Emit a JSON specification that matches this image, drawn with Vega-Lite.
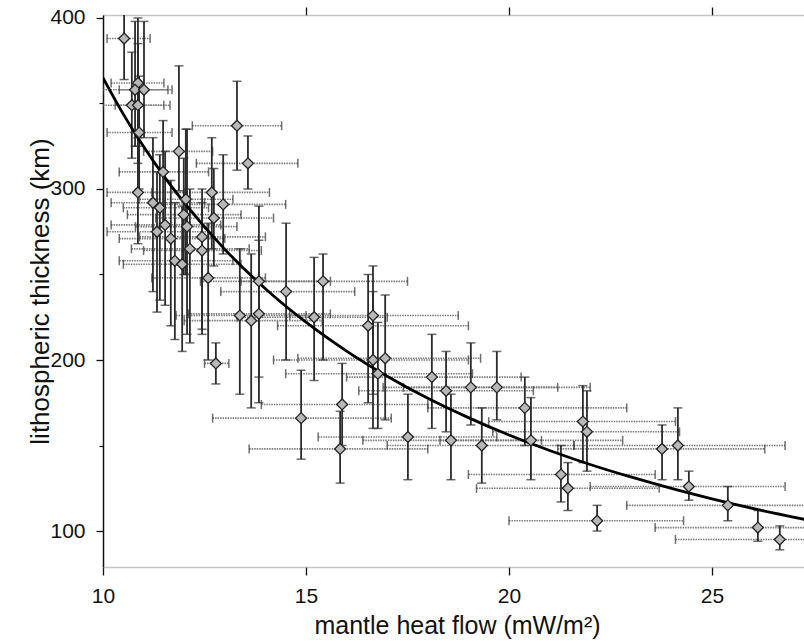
{
  "$schema": "https://vega.github.io/schema/vega-lite/v6.json",
  "width": 701,
  "height": 552,
  "autosize": {"type": "none"},
  "padding": {"left": 103, "top": 15, "right": 0, "bottom": 74},
  "background": "white",
  "config": {"view": {"stroke": null}, "font": "Liberation Sans"},
  "datasets": {
    "pts": [
      {"x": 10.52, "y": 388, "xlo": 10.1, "xhi": 11.16, "ylo": 364, "yhi": 412},
      {"x": 10.86, "y": 362, "xlo": 10.2, "xhi": 11.5, "ylo": 330, "yhi": 400},
      {"x": 10.79, "y": 358, "xlo": 10.0, "xhi": 11.6, "ylo": 325, "yhi": 398},
      {"x": 11.01, "y": 358, "xlo": 10.4, "xhi": 11.7, "ylo": 330, "yhi": 398},
      {"x": 10.71, "y": 349, "xlo": 10.0, "xhi": 11.5, "ylo": 318, "yhi": 380},
      {"x": 10.86, "y": 349, "xlo": 10.3, "xhi": 11.65, "ylo": 315, "yhi": 385},
      {"x": 10.89, "y": 333, "xlo": 10.1, "xhi": 11.7, "ylo": 300, "yhi": 366},
      {"x": 13.30, "y": 337, "xlo": 12.2, "xhi": 14.4, "ylo": 311, "yhi": 363},
      {"x": 13.57, "y": 315, "xlo": 12.3, "xhi": 14.8, "ylo": 300, "yhi": 331},
      {"x": 11.87, "y": 322, "xlo": 11.0, "xhi": 12.7, "ylo": 299, "yhi": 372},
      {"x": 11.48, "y": 310, "xlo": 10.4, "xhi": 12.6, "ylo": 280, "yhi": 340},
      {"x": 10.86, "y": 298, "xlo": 10.1, "xhi": 12.0, "ylo": 268, "yhi": 325},
      {"x": 11.23, "y": 292, "xlo": 10.2, "xhi": 12.5, "ylo": 240, "yhi": 330},
      {"x": 11.40, "y": 289, "xlo": 10.5, "xhi": 12.6, "ylo": 235, "yhi": 320},
      {"x": 12.68, "y": 298, "xlo": 11.2, "xhi": 14.1, "ylo": 265, "yhi": 330},
      {"x": 12.96, "y": 291, "xlo": 11.5, "xhi": 14.5, "ylo": 262, "yhi": 320},
      {"x": 12.04, "y": 294, "xlo": 10.9, "xhi": 13.2, "ylo": 250, "yhi": 335},
      {"x": 11.99, "y": 285, "xlo": 10.6, "xhi": 13.4, "ylo": 250, "yhi": 318},
      {"x": 12.73, "y": 283, "xlo": 11.3, "xhi": 14.2, "ylo": 255, "yhi": 312},
      {"x": 11.53, "y": 279, "xlo": 10.2, "xhi": 12.9, "ylo": 232, "yhi": 322},
      {"x": 11.33, "y": 275, "xlo": 10.1, "xhi": 12.6, "ylo": 228, "yhi": 310},
      {"x": 12.07, "y": 278, "xlo": 10.8, "xhi": 13.3, "ylo": 215, "yhi": 335},
      {"x": 11.67, "y": 271, "xlo": 10.4, "xhi": 13.0, "ylo": 220, "yhi": 305},
      {"x": 12.44, "y": 272, "xlo": 10.9, "xhi": 14.0, "ylo": 215, "yhi": 300},
      {"x": 12.14, "y": 265, "xlo": 10.7, "xhi": 13.6, "ylo": 210, "yhi": 300},
      {"x": 12.44, "y": 264, "xlo": 11.0, "xhi": 13.9, "ylo": 218, "yhi": 292},
      {"x": 11.77, "y": 258, "xlo": 10.4, "xhi": 13.2, "ylo": 212, "yhi": 292},
      {"x": 11.95, "y": 256, "xlo": 10.5, "xhi": 13.4, "ylo": 205, "yhi": 290},
      {"x": 12.59, "y": 248, "xlo": 11.2, "xhi": 14.0, "ylo": 200, "yhi": 280},
      {"x": 13.84, "y": 246, "xlo": 12.4, "xhi": 15.6, "ylo": 190, "yhi": 290},
      {"x": 14.51, "y": 240, "xlo": 12.9, "xhi": 16.2, "ylo": 200, "yhi": 280},
      {"x": 15.42, "y": 246, "xlo": 13.4, "xhi": 17.5, "ylo": 200, "yhi": 262},
      {"x": 13.37, "y": 226, "xlo": 11.8, "xhi": 15.0, "ylo": 180, "yhi": 265},
      {"x": 13.65, "y": 223, "xlo": 12.0, "xhi": 15.4, "ylo": 172, "yhi": 262},
      {"x": 13.84, "y": 227, "xlo": 12.1, "xhi": 15.6, "ylo": 175, "yhi": 270},
      {"x": 15.20, "y": 225, "xlo": 13.3, "xhi": 17.0, "ylo": 188, "yhi": 260},
      {"x": 16.65, "y": 226, "xlo": 14.6, "xhi": 18.75, "ylo": 180, "yhi": 255},
      {"x": 16.53, "y": 220, "xlo": 14.3, "xhi": 19.0, "ylo": 175, "yhi": 250},
      {"x": 12.78, "y": 198, "xlo": 12.5, "xhi": 13.1, "ylo": 186, "yhi": 210},
      {"x": 16.65, "y": 200, "xlo": 14.2, "xhi": 19.0, "ylo": 160, "yhi": 240},
      {"x": 16.95, "y": 201, "xlo": 14.8, "xhi": 19.3, "ylo": 165, "yhi": 238},
      {"x": 16.77, "y": 192, "xlo": 14.5, "xhi": 19.1, "ylo": 160, "yhi": 222},
      {"x": 15.89, "y": 174, "xlo": 13.9, "xhi": 18.0, "ylo": 150, "yhi": 198},
      {"x": 14.88, "y": 166, "xlo": 12.7, "xhi": 17.1, "ylo": 142, "yhi": 194},
      {"x": 15.84, "y": 148, "xlo": 13.6, "xhi": 18.0, "ylo": 128, "yhi": 170},
      {"x": 18.10, "y": 190, "xlo": 16.0, "xhi": 20.3, "ylo": 160, "yhi": 215},
      {"x": 18.45, "y": 182, "xlo": 16.3, "xhi": 20.6, "ylo": 158, "yhi": 205},
      {"x": 19.06, "y": 184, "xlo": 16.9, "xhi": 21.2, "ylo": 162, "yhi": 210},
      {"x": 19.70, "y": 184, "xlo": 17.4, "xhi": 22.0, "ylo": 165, "yhi": 205},
      {"x": 20.39, "y": 172, "xlo": 18.0, "xhi": 22.9, "ylo": 150, "yhi": 190},
      {"x": 17.51, "y": 155, "xlo": 15.3, "xhi": 19.7, "ylo": 130, "yhi": 180},
      {"x": 18.57, "y": 153, "xlo": 16.4, "xhi": 20.8, "ylo": 130, "yhi": 180},
      {"x": 19.33, "y": 150, "xlo": 17.0, "xhi": 21.6, "ylo": 128, "yhi": 172},
      {"x": 20.54, "y": 153, "xlo": 18.3, "xhi": 22.8, "ylo": 130, "yhi": 178},
      {"x": 21.28, "y": 133, "xlo": 19.0, "xhi": 23.6, "ylo": 117, "yhi": 150},
      {"x": 21.82, "y": 164, "xlo": 19.5, "xhi": 24.1, "ylo": 140, "yhi": 185},
      {"x": 21.92, "y": 158, "xlo": 19.6, "xhi": 24.2, "ylo": 135, "yhi": 182},
      {"x": 23.77, "y": 148, "xlo": 21.2, "xhi": 26.3, "ylo": 130, "yhi": 162},
      {"x": 24.16, "y": 150, "xlo": 21.6, "xhi": 26.8, "ylo": 130, "yhi": 172},
      {"x": 21.45, "y": 125, "xlo": 19.2, "xhi": 23.7, "ylo": 112, "yhi": 140},
      {"x": 24.43, "y": 126, "xlo": 22.0, "xhi": 26.8, "ylo": 118, "yhi": 135},
      {"x": 25.39, "y": 115, "xlo": 22.9, "xhi": 27.9, "ylo": 106, "yhi": 126},
      {"x": 22.17, "y": 106, "xlo": 20.0, "xhi": 24.3, "ylo": 100, "yhi": 115},
      {"x": 26.13, "y": 102, "xlo": 23.6, "xhi": 28.6, "ylo": 94, "yhi": 112},
      {"x": 26.67, "y": 95, "xlo": 24.1, "xhi": 29.2, "ylo": 89, "yhi": 103}
    ],
    "fit": [
      {"q": 10, "h": 365},
      {"q": 10.5, "h": 343.8},
      {"q": 11, "h": 324.8},
      {"q": 11.5, "h": 307.5},
      {"q": 12, "h": 292.0},
      {"q": 13, "h": 264.7},
      {"q": 14, "h": 241.7},
      {"q": 15, "h": 222.1},
      {"q": 16, "h": 205.2},
      {"q": 17, "h": 190.5},
      {"q": 18, "h": 177.6},
      {"q": 19, "h": 166.3},
      {"q": 20, "h": 156.1},
      {"q": 21, "h": 147.1},
      {"q": 22, "h": 138.9},
      {"q": 23, "h": 131.6},
      {"q": 24, "h": 124.9},
      {"q": 25, "h": 118.8},
      {"q": 26, "h": 113.2},
      {"q": 27, "h": 108.1},
      {"q": 27.3, "h": 106.7}
    ]
  },
  "resolve": {"axis": {"x": "independent", "y": "independent"}},
  "layer": [
    {
      "layer": [
        {
          "data": {"name": "pts"},
          "mark": {"type": "rule", "clip": true, "color": "#7a7a7a", "strokeWidth": 1.6, "strokeDash": [1.5, 1]},
          "encoding": {
            "x": {
              "field": "xlo", "type": "quantitative",
              "scale": {"domain": [10, 27.266], "nice": false, "zero": false},
              "axis": {
                "orient": "bottom", "values": [10, 15, 20, 25], "grid": false,
                "domainColor": "#888888", "domainDash": [1, 1], "domainWidth": 1.5,
                "tickColor": "#111111", "tickSize": 8, "tickWidth": 1.3,
                "labelFontSize": 21, "labelColor": "#111111", "labelBaseline": "alphabetic",
                "labelPadding": 27, "labelFlush": false, "labelOverlap": false,
                "title": "mantle heat flow (mW/m²)", "titleFontSize": 25, "titleFontWeight": "normal",
                "titleColor": "#111111", "titleX": 354, "titleY": 66, "titleAlign": "center",
                "titleBaseline": "alphabetic"
              }
            },
            "x2": {"field": "xhi"},
            "y": {
              "field": "y", "type": "quantitative",
              "scale": {"domain": [78.95, 401.75], "nice": false, "zero": false},
              "axis": {
                "orient": "left", "values": [100, 200, 300, 400], "grid": false,
                "domainColor": "#111111", "domainWidth": 1.5,
                "tickColor": "#111111", "tickSize": 7, "tickWidth": 1.3,
                "labelFontSize": 21, "labelColor": "#111111", "labelPadding": 11,
                "labelBaseline": "middle", "labelFlush": false, "labelOverlap": false,
                "title": "lithospheric thickness (km)", "titleFontSize": 26, "titleFontWeight": "normal",
                "titleColor": "#111111", "titleAngle": -90, "titleX": -55, "titleY": 276,
                "titleAlign": "center", "titleBaseline": "alphabetic"
              }
            }
          }
        },
        {
          "data": {"name": "pts"},
          "transform": [{"fold": ["xlo", "xhi"], "as": ["k", "xc"]}],
          "mark": {"type": "tick", "orient": "vertical", "clip": true, "color": "#333333", "size": 9, "thickness": 1.5},
          "encoding": {
            "x": {"field": "xc", "type": "quantitative"},
            "y": {"field": "y", "type": "quantitative"}
          }
        },
        {
          "data": {"name": "pts"},
          "mark": {"type": "rule", "clip": true, "color": "#2b2b2b", "strokeWidth": 1.8},
          "encoding": {
            "x": {"field": "x", "type": "quantitative"},
            "y": {"field": "ylo", "type": "quantitative"},
            "y2": {"field": "yhi"}
          }
        },
        {
          "data": {"name": "pts"},
          "transform": [{"fold": ["ylo", "yhi"], "as": ["k", "yc"]}],
          "mark": {"type": "tick", "orient": "horizontal", "clip": true, "color": "#2b2b2b", "size": 9, "thickness": 1.5},
          "encoding": {
            "x": {"field": "x", "type": "quantitative"},
            "y": {"field": "yc", "type": "quantitative"}
          }
        },
        {
          "data": {"name": "fit"},
          "mark": {"type": "line", "clip": true, "color": "#000000", "strokeWidth": 2.8, "interpolate": "monotone"},
          "encoding": {
            "x": {"field": "q", "type": "quantitative"},
            "y": {"field": "h", "type": "quantitative"}
          }
        },
        {
          "data": {"name": "pts"},
          "mark": {"type": "point", "shape": "diamond", "filled": true, "fill": "#b8b8b8", "stroke": "#222222", "strokeWidth": 1.3, "size": 120, "opacity": 1, "clip": true},
          "encoding": {
            "x": {"field": "x", "type": "quantitative"},
            "y": {"field": "y", "type": "quantitative"}
          }
        }
      ]
    },
    {
      "data": {"name": "pts"},
      "mark": {"type": "point", "opacity": 0},
      "encoding": {
        "x": {
          "field": "x", "type": "quantitative",
          "scale": {"domain": [10, 27.266], "nice": false, "zero": false},
          "axis": {
            "orient": "top", "values": [15, 20, 25], "grid": false, "labels": false, "title": null,
            "domainColor": "#888888", "domainDash": [1, 1], "domainWidth": 1.5,
            "tickColor": "#111111", "tickSize": 8, "tickWidth": 1.3
          }
        },
        "y": {
          "field": "y", "type": "quantitative",
          "scale": {"domain": [78.95, 401.75], "nice": false, "zero": false},
          "axis": {
            "orient": "left", "values": [150, 250, 350], "grid": false, "labels": false, "title": null,
            "domain": false, "tickColor": "#111111", "tickSize": 4, "tickWidth": 1.2
          }
        }
      }
    }
  ]
}
